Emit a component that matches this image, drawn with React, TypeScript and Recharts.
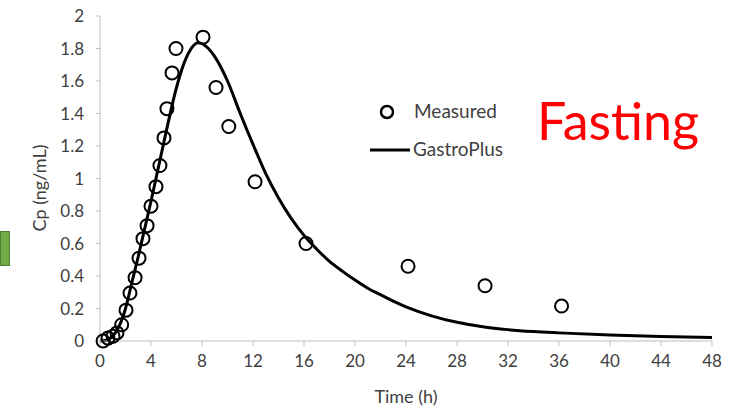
import React from 'react';
import { ComposedChart, Line, Scatter, XAxis, YAxis, Label } from 'recharts';

// measured plasma concentrations (time h, Cp ng/mL)
const measuredTime = [0.24, 0.63, 1.02, 1.33, 1.7, 2.04, 2.35, 2.75, 3.06, 3.37, 3.69, 4.0, 4.39, 4.7, 5.02, 5.25, 5.65, 5.96, 8.08, 9.1, 10.1, 12.16, 16.16, 24.16, 30.2, 36.2];
const measuredCp = [0.0, 0.018, 0.03, 0.05, 0.1, 0.19, 0.295, 0.39, 0.51, 0.63, 0.71, 0.83, 0.95, 1.08, 1.25, 1.43, 1.65, 1.8, 1.87, 1.56, 1.32, 0.98, 0.6, 0.46, 0.34, 0.215];

// GastroPlus simulated profile
const simTime = [0, 0.5, 1, 1.5, 2, 2.5, 3, 3.5, 4, 5, 6, 6.5, 7, 7.7, 8.5, 9, 10, 11, 12, 13, 14, 16, 17, 18, 19, 20, 21, 22, 23, 24, 26, 28, 30, 32, 34, 36, 40, 44, 48];
const simCp = [0, 0.005, 0.03, 0.09, 0.2, 0.36, 0.52, 0.69, 0.86, 1.22, 1.56, 1.69, 1.78, 1.835, 1.8, 1.75, 1.6, 1.4, 1.21, 1.03, 0.88, 0.65, 0.565, 0.49, 0.43, 0.375, 0.325, 0.285, 0.245, 0.21, 0.155, 0.115, 0.088, 0.07, 0.058, 0.05, 0.037, 0.028, 0.022];

const xTicks = [0, 4, 8, 12, 16, 20, 24, 28, 32, 36, 40, 44, 48];
const yTicks = [0, 0.2, 0.4, 0.6, 0.8, 1, 1.2, 1.4, 1.6, 1.8, 2];

const measured = measuredTime.map((t, i) => ({ t, cp: measuredCp[i] }));
const simulated = simTime.map((t, i) => ({ t, cp: simCp[i] }));

const FONT = 'Lato, "Open Sans", sans-serif';
const AXIS = '#bfbfbf';
const tickStyle = { fontSize: 17, fill: '#404040', fontFamily: FONT };

const Ring = (props: any) => (
  <circle cx={props.cx} cy={props.cy} r={6.5} fill="none" stroke="#000" strokeWidth={2} />
);

export default function App() {
  return (
    <div style={{ position: 'absolute', left: 0, top: 0, width: 730, height: 410, background: '#fff', fontFamily: FONT }}>
      <div style={{ position: 'absolute', left: 0, top: 231, width: 8, height: 33, background: '#70ad47', border: '1px solid #507e32' }} />
      <ComposedChart width={730} height={410} margin={{ top: 16, right: 18, bottom: 39, left: 40 }}>
        <XAxis
          type="number"
          dataKey="t"
          domain={[0, 48]}
          ticks={xTicks}
          interval={0}
          stroke={AXIS}
          tickSize={5}
          tickMargin={9}
          tick={tickStyle}
          height={30}
        >
          <Label
            content={({ viewBox }: any) => (
              <text x={viewBox.x + viewBox.width / 2} y={403} textAnchor="middle" fontSize={18} fill="#404040" fontFamily={FONT}>
                Time (h)
              </text>
            )}
          />
        </XAxis>
        <YAxis
          type="number"
          dataKey="cp"
          domain={[0, 2]}
          ticks={yTicks}
          interval={0}
          stroke={AXIS}
          tickSize={4}
          tickMargin={12}
          tick={tickStyle}
          width={60}
        >
          <Label
            content={() => (
              <text x={46} y={188} transform="rotate(-90 46 188)" textAnchor="middle" fontSize={18} fill="#404040" fontFamily={FONT}>
                Cp (ng/mL)
              </text>
            )}
          />
        </YAxis>
        <Line
          data={simulated}
          dataKey="cp"
          type="monotone"
          stroke="#000"
          strokeWidth={3}
          dot={false}
          isAnimationActive={false}
        />
        <Scatter data={measured} dataKey="cp" shape={Ring} isAnimationActive={false} />
      </ComposedChart>
      <svg width={730} height={410} style={{ position: 'absolute', left: 0, top: 0, pointerEvents: 'none' }}>
        <circle cx={387} cy={112} r={6} fill="none" stroke="#000" strokeWidth={2.5} />
        <text x={414} y={118} fontSize={19} fill="#404040" fontFamily={FONT}>Measured</text>
        <line x1={370} y1={150} x2={410} y2={150} stroke="#000" strokeWidth={3} />
        <text x={413} y={156} fontSize={19} fill="#404040" fontFamily={FONT}>GastroPlus</text>
        <text x={537} y={140} fontSize={52} fill="#ff0000" fontFamily={FONT}>Fasting</text>
      </svg>
    </div>
  );
}
